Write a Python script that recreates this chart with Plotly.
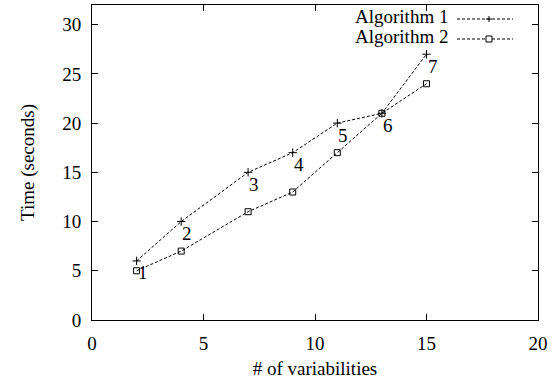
import plotly.graph_objects as go

x_vals = [2, 4, 7, 9, 11, 13, 15]
alg1 = [6, 10, 15, 17, 20, 21, 27]
alg2 = [5, 7, 11, 13, 17, 21, 24]
point_labels = ["1", "2", "3", "4", "5", "6", "7"]
series_names = ["Algorithm 1", "Algorithm 2"]
x_ticks = [0, 5, 10, 15, 20]
y_ticks = [0, 5, 10, 15, 20, 25, 30]

FONT = "Liberation Serif, Times New Roman, serif"
FS = 19
DASH = "3px,2px"

fig = go.Figure()
fig.add_trace(go.Scatter(
    x=x_vals, y=alg1, mode="lines+markers", name=series_names[0],
    line=dict(color="black", width=1, dash=DASH),
    marker=dict(symbol="cross-thin", size=6, color="black",
                line=dict(color="black", width=1)),
))
fig.add_trace(go.Scatter(
    x=x_vals, y=alg2, mode="lines+markers", name=series_names[1],
    line=dict(color="black", width=1, dash=DASH),
    marker=dict(symbol="square-open", size=6, color="black",
                line=dict(color="black", width=1)),
))

for xv, yv, t in zip(x_vals, alg1, point_labels):
    fig.add_annotation(x=xv, y=yv, text=t, showarrow=False,
                       xanchor="center", yanchor="middle", xshift=6, yshift=-12,
                       font=dict(family=FONT, size=FS, color="black"))

# Gnuplot-style legend: text on the left, sample on the right
plot_l, plot_r, plot_t, plot_b = 92, 538, 5, 320
def px(xp):
    return (xp - plot_l) / (plot_r - plot_l)
def py(yp):
    return (plot_b - yp) / (plot_b - plot_t)

rows_y = [19, 39]
for i, (name, yrow) in enumerate(zip(series_names, rows_y)):
    fig.add_annotation(xref="paper", yref="paper", x=px(450), y=py(yrow - 2),
                       text=name, showarrow=False, xanchor="right", yanchor="middle",
                       font=dict(family=FONT, size=FS, color="black"))
    fig.add_shape(type="line", xref="paper", yref="paper",
                  x0=px(457), x1=px(513), y0=py(yrow), y1=py(yrow),
                  line=dict(color="black", width=1, dash=DASH))
    cx = 489
    if i == 0:
        fig.add_shape(type="line", xref="paper", yref="paper",
                      x0=px(cx - 3), x1=px(cx + 3), y0=py(yrow), y1=py(yrow),
                      line=dict(color="black", width=1))
        fig.add_shape(type="line", xref="paper", yref="paper",
                      x0=px(cx), x1=px(cx), y0=py(yrow - 3), y1=py(yrow + 3),
                      line=dict(color="black", width=1))
    else:
        fig.add_shape(type="rect", xref="paper", yref="paper",
                      x0=px(cx - 3), x1=px(cx + 3), y0=py(yrow - 3), y1=py(yrow + 3),
                      line=dict(color="black", width=1), fillcolor="white")

axis_common = dict(
    showgrid=False, zeroline=False, showline=True, linecolor="black",
    linewidth=1, mirror="ticks", ticks="inside", ticklen=6,
    tickcolor="black", tickfont=dict(family=FONT, size=FS, color="black"),
    automargin=False,
)

fig.update_xaxes(range=[0, 20], tickvals=x_ticks, ticklabelstandoff=6,
                 title=dict(text="# of variabilities", font=dict(family=FONT, size=FS, color="black"), standoff=8),
                 **axis_common)
fig.update_yaxes(range=[0, 32], tickvals=y_ticks, ticklabelstandoff=6,
                 title=dict(text="Time (seconds)", font=dict(family=FONT, size=FS, color="black"), standoff=22),
                 **axis_common)

fig.update_layout(
    width=559, height=381,
    margin=dict(l=92, r=21, t=5, b=61),
    plot_bgcolor="white", paper_bgcolor="white",
    font=dict(family=FONT, size=FS, color="black"),
    showlegend=False,
)

fig.write_html("out.html", config={"displayModeBar": False},
               post_script="document.body.style.margin='0';")
